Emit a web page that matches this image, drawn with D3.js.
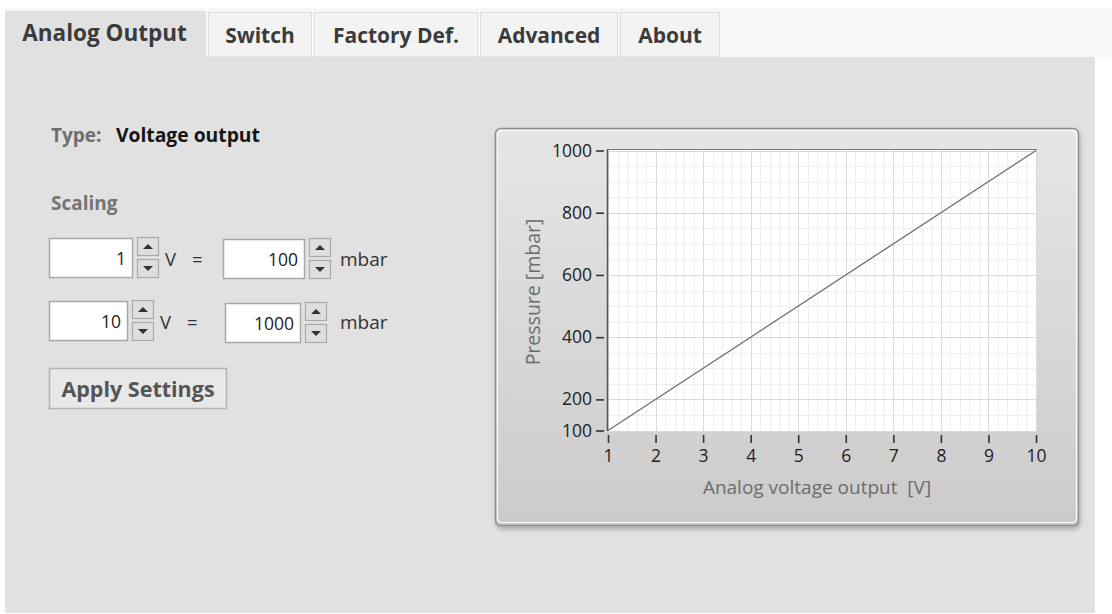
<!DOCTYPE html>
<html lang="en">
<head>
<meta charset="utf-8">
<title>Analog Output</title>
<script src="https://cdn.jsdelivr.net/npm/d3@7"></script>
<style>
  body { margin: 0; padding: 0; background: #fff; font-family: 'Open Sans', sans-serif; }
  svg { display: block; }
  .axis path { display: none; }
  .axis line { stroke: #333; stroke-width: 1.6; }
  .axis text { font-size: 17.5px; fill: #222; font-family: 'Open Sans', sans-serif; }
  .title { white-space: pre; }
</style>
</head>
<body>
<div id="panel"></div>
<script>
var tabNames = ["Analog Output", "Switch", "Factory Def.", "Advanced", "About"];
var typeText = "Voltage output";
var scaleVolts = [1, 10];
var scaleMbar = [100, 1000];
var xTicks = [1, 2, 3, 4, 5, 6, 7, 8, 9, 10];
var yTicks = [100, 200, 400, 600, 800, 1000];
var xTitle = "Analog voltage output  [V]";
var yTitle = "Pressure [mbar]";

var W = 1112, H = 614;
var svg = d3.select("#panel").append("svg")
  .attr("width", W).attr("height", H);

var defs = svg.append("defs");
var grad = defs.append("linearGradient").attr("id", "frameGrad")
  .attr("x1", 0).attr("y1", 0).attr("x2", 0).attr("y2", 1);
grad.append("stop").attr("offset", "0%").attr("stop-color", "#e6e6e6");
grad.append("stop").attr("offset", "100%").attr("stop-color", "#cbcbcb");
var shadow = defs.append("filter").attr("id", "shadow")
  .attr("x", "-5%").attr("y", "-5%").attr("width", "110%").attr("height", "115%");
shadow.append("feDropShadow").attr("dx", 1).attr("dy", 3).attr("stdDeviation", 2)
  .attr("flood-color", "#000").attr("flood-opacity", 0.25);

// ---- tabs ----
svg.append("rect").attr("x", 0).attr("y", 0).attr("width", W).attr("height", H).attr("fill", "#fff");
svg.append("rect").attr("x", 5).attr("y", 8).attr("width", W - 5).attr("height", 49).attr("fill", "#f7f7f7");
svg.append("rect").attr("x", 5).attr("y", 57).attr("width", 1090).attr("height", H - 58).attr("fill", "#e1e1e1");

var tabEdges = [[5, 206], [208, 312], [314, 478], [480, 618], [620, 720]];
tabNames.forEach(function(name, i) {
  var a = tabEdges[i][0], b = tabEdges[i][1];
  if (i === 0) {
    svg.append("rect").attr("x", a).attr("y", 11).attr("width", b - a).attr("height", 47).attr("fill", "#e1e1e1");
  } else {
    svg.append("rect").attr("x", a + 0.5).attr("y", 12.5).attr("width", b - a - 1).attr("height", 44.5)
      .attr("fill", "#f3f3f3").attr("stroke", "#dcdcdc");
  }
  svg.append("text").attr("x", (a + b) / 2 - (i === 0 ? 1 : 0)).attr("y", i === 0 ? 41 : 43)
    .attr("text-anchor", "middle").attr("font-size", i === 0 ? 22.5 : 21).attr("font-weight", "bold")
    .attr("fill", "#3b3b3b").text(name);
});

// ---- left controls ----
svg.append("text").attr("x", 51).attr("y", 142).attr("font-size", 19).attr("font-weight", "bold")
  .attr("fill", "#6e6e6e").text("Type:");
svg.append("text").attr("x", 116).attr("y", 142).attr("font-size", 19.3).attr("font-weight", "bold")
  .attr("fill", "#151515").text(typeText);
svg.append("text").attr("x", 51).attr("y", 210).attr("font-size", 19).attr("font-weight", "bold")
  .attr("fill", "#747474").text("Scaling");

function spinBox(x, y, w, value) {
  svg.append("rect").attr("x", x + 0.5).attr("y", y + 0.5).attr("width", w).attr("height", 39)
    .attr("fill", "#fff").attr("stroke", "#a8a8a8").attr("stroke-width", 1.5);
  svg.append("text").attr("x", x + w - 6).attr("y", y + 27).attr("text-anchor", "end")
    .attr("font-size", 17.5).attr("fill", "#222").text(value);
  var sx = x + w + 5;
  [[y - 1, -1], [y + 21, 1]].forEach(function(p) {
    svg.append("rect").attr("x", sx + 0.5).attr("y", p[0] + 0.5).attr("width", 21).attr("height", 18)
      .attr("fill", "#dedede").attr("stroke", "#a9a9a9").attr("stroke-width", 1.2);
    var cx = sx + 11, cy = p[0] + 9.5;
    var tri = p[1] < 0
      ? [[cx - 5, cy + 2.5], [cx + 5, cy + 2.5], [cx, cy - 2.5]]
      : [[cx - 5, cy - 2.5], [cx + 5, cy - 2.5], [cx, cy + 2.5]];
    svg.append("path").attr("d", d3.line()(tri) + "Z").attr("fill", "#333");
  });
}

var rowTop = [238, 301];
var voltBoxW = [83, 78];
var mbarBoxX = [223, 225];
var mbarBoxW = [81, 75];
scaleVolts.forEach(function(v, i) {
  var y = rowTop[i];
  spinBox(49, y, voltBoxW[i], v);
  var vx = 49 + voltBoxW[i] + 33;
  svg.append("text").attr("x", vx).attr("y", y + 28).attr("font-size", 18.5).attr("fill", "#333").text("V");
  svg.append("text").attr("x", vx + 27).attr("y", y + 28).attr("font-size", 18.5).attr("fill", "#333").text("=");
  spinBox(mbarBoxX[i], y + 1 + i, mbarBoxW[i], scaleMbar[i]);
  svg.append("text").attr("x", 340).attr("y", y + 28).attr("font-size", 19).attr("fill", "#333").text("mbar");
});

svg.append("rect").attr("x", 49.5).attr("y", 368.5).attr("width", 177).attr("height", 40)
  .attr("fill", "#e8e8e8").attr("stroke", "#b3b3b3").attr("stroke-width", 1.5);
svg.append("text").attr("x", 138).attr("y", 397).attr("text-anchor", "middle")
  .attr("font-size", 21.5).attr("font-weight", "bold").attr("fill", "#555").text("Apply Settings");

// ---- chart frame ----
svg.append("rect").attr("x", 495.5).attr("y", 128.5).attr("width", 583).attr("height", 397).attr("rx", 5)
  .attr("fill", "url(#frameGrad)").attr("stroke", "#8e8e8e").attr("stroke-width", 1.5)
  .attr("filter", "url(#shadow)");
svg.append("rect").attr("x", 497.5).attr("y", 130.5).attr("width", 579).attr("height", 392).attr("rx", 4)
  .attr("fill", "none").attr("stroke", "#fafafa").attr("stroke-width", 1.2);

var plotL = 607, plotR = 1037, plotT = 149, plotB = 431;
var x = d3.scaleLinear().domain([1, 10]).range([608, 1036]);
var y = d3.scaleLinear().domain([100, 1000]).range([430.5, 150.5]);

svg.append("rect").attr("x", plotL).attr("y", plotT).attr("width", plotR - plotL).attr("height", plotB - plotT)
  .attr("fill", "#fff");

var grid = svg.append("g");
var xMinor = d3.range(1, 10.001, 0.2), yMinor = d3.range(100, 1000.001, 50);
grid.selectAll(".xm").data(xMinor).enter().append("line")
  .attr("x1", function(d) { return Math.round(x(d)) + 0.5; }).attr("x2", function(d) { return Math.round(x(d)) + 0.5; })
  .attr("y1", plotT).attr("y2", plotB).attr("stroke", "#efefef");
grid.selectAll(".ym").data(yMinor).enter().append("line")
  .attr("y1", function(d) { return Math.round(y(d)) + 0.5; }).attr("y2", function(d) { return Math.round(y(d)) + 0.5; })
  .attr("x1", plotL).attr("x2", plotR).attr("stroke", "#efefef");
grid.selectAll(".xM").data(xTicks).enter().append("line")
  .attr("x1", function(d) { return Math.round(x(d)) + 0.5; }).attr("x2", function(d) { return Math.round(x(d)) + 0.5; })
  .attr("y1", plotT).attr("y2", plotB).attr("stroke", "#dadada");
grid.selectAll(".yM").data(yTicks).enter().append("line")
  .attr("y1", function(d) { return Math.round(y(d)) + 0.5; }).attr("y2", function(d) { return Math.round(y(d)) + 0.5; })
  .attr("x1", plotL).attr("x2", plotR).attr("stroke", "#dadada");

// plot border (top and left are dark)
svg.append("line").attr("x1", plotL).attr("x2", plotR).attr("y1", plotT + 0.5).attr("y2", plotT + 0.5)
  .attr("stroke", "#7a7a7a").attr("stroke-width", 1.2);
svg.append("line").attr("x1", plotL + 0.5).attr("x2", plotL + 0.5).attr("y1", plotT).attr("y2", plotB)
  .attr("stroke", "#555").attr("stroke-width", 1.5);

// the scaling line
var pts = d3.zip(scaleVolts, scaleMbar);
svg.append("path").datum(pts)
  .attr("d", d3.line().x(function(d) { return x(d[0]); }).y(function(d) { return y(d[1]); }))
  .attr("fill", "none").attr("stroke", "#6e6e6e").attr("stroke-width", 1.3);

// axes
svg.append("g").attr("class", "axis").attr("transform", "translate(604,0)")
  .call(d3.axisLeft(y).tickValues(yTicks).tickSize(8).tickPadding(4).tickFormat(d3.format("d")));
svg.append("g").attr("class", "axis").attr("transform", "translate(0,435)")
  .call(d3.axisBottom(x).tickValues(xTicks).tickSize(8).tickPadding(7).tickFormat(d3.format("d")));

svg.append("text").attr("class", "title").attr("x", 817).attr("y", 494).attr("text-anchor", "middle")
  .attr("font-size", 19).attr("fill", "#6c6c6c").text(xTitle);
svg.append("text").attr("class", "title").attr("transform", "translate(540,292) rotate(-90)").attr("text-anchor", "middle")
  .attr("font-size", 19.5).attr("fill", "#6c6c6c").text(yTitle);
</script>
</body>
</html>
